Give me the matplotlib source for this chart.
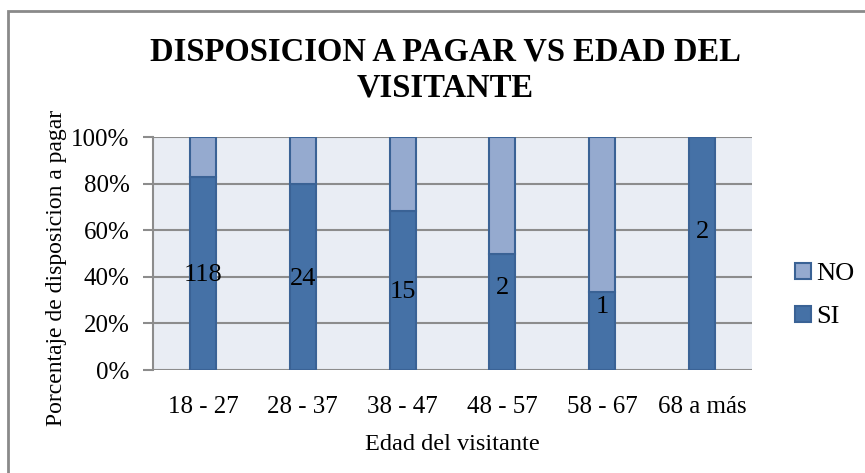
import numpy as np
import matplotlib.pyplot as plt
from matplotlib.patches import Rectangle
from matplotlib.lines import Line2D

plt.rcParams["font.family"] = ["Liberation Serif", "DejaVu Serif"]

categories = ["18 - 27", "28 - 37", "38 - 47", "48 - 57", "58 - 67", "68 a más"]
si_counts = [118, 24, 15, 2, 1, 2]
no_counts = [24, 6, 7, 2, 2, 0]
# where each count label sits, as a fraction of the bar height
label_pos = [0.408, 0.391, 0.334, 0.351, 0.272, 0.594]

si_col = "#4571A6"
no_col = "#95AACF"
edge_col = "#3A6295"

si = np.array(si_counts, dtype=float)
no = np.array(no_counts, dtype=float)
total = si + no
si_pct = si / total * 100
no_pct = no / total * 100

fig = plt.figure(figsize=(8.65, 4.73), dpi=100)
ax = fig.add_axes([153 / 865, 103 / 473, 599 / 865, 232.7 / 473])
ax.set_facecolor("#E9EDF4")

x = np.arange(len(categories))
w = 0.26
ax.bar(x, si_pct, w, color=si_col, edgecolor=edge_col, linewidth=1.5, zorder=3)
ax.bar(x, no_pct, w, bottom=si_pct, color=no_col, edgecolor=edge_col,
       linewidth=1.5, zorder=3)

for i, c in enumerate(si_counts):
    ax.text(x[i], label_pos[i] * 100, str(c), ha="center", va="center",
            fontsize=19, color="black", zorder=4)

ax.set_xlim(-0.5, len(categories) - 0.5)
ax.set_ylim(0, 100)
ax.set_yticks(np.arange(0, 101, 20))
ax.set_yticklabels([f"{v}%" for v in range(0, 101, 20)], fontsize=18)
ax.set_xticks(x)
ax.set_xticklabels(categories, fontsize=18)
ax.tick_params(axis="x", length=0, pad=19)
ax.tick_params(axis="y", length=7, width=1.5, color="#8C8C8C", pad=10)
ax.yaxis.grid(True, color="#8C8C8C", linewidth=1.5, zorder=1)
for s in ["top", "right", "bottom"]:
    ax.spines[s].set_visible(False)
ax.spines["left"].set_color("#8C8C8C")
ax.spines["left"].set_linewidth(1.5)
ax.set_axisbelow(True)

ax.set_xlabel("Edad del visitante", fontsize=17.5, labelpad=11)
fig.text(57 / 865, 1 - 268 / 473, "Porcentaje de disposicion a pagar",
         rotation=90, ha="center", va="center", fontsize=17)

fig.text(445 / 865, 1 - 70 / 473, "DISPOSICION A PAGAR VS EDAD DEL\nVISITANTE",
         ha="center", va="center", fontsize=23.5, fontweight="bold",
         linespacing=1.2)

handles = [
    Line2D([], [], marker="s", linestyle="none", markersize=11,
           markerfacecolor=no_col, markeredgecolor=edge_col, markeredgewidth=1.5),
    Line2D([], [], marker="s", linestyle="none", markersize=11,
           markerfacecolor=si_col, markeredgecolor=edge_col, markeredgewidth=1.5),
]
fig.legend(handles, ["NO", "SI"], loc="center left",
           bbox_to_anchor=(781 / 865, 1 - 295 / 473), frameon=False,
           fontsize=19, handlelength=0.7, handletextpad=0.15,
           labelspacing=0.75, borderpad=0)

fig.add_artist(Rectangle((8 / 865, -0.1), 1.0, (473 - 11) / 473 + 0.1,
                         transform=fig.transFigure, fill=False,
                         edgecolor="#8A8A8A", linewidth=2))

fig.savefig("out.png", dpi=100)
